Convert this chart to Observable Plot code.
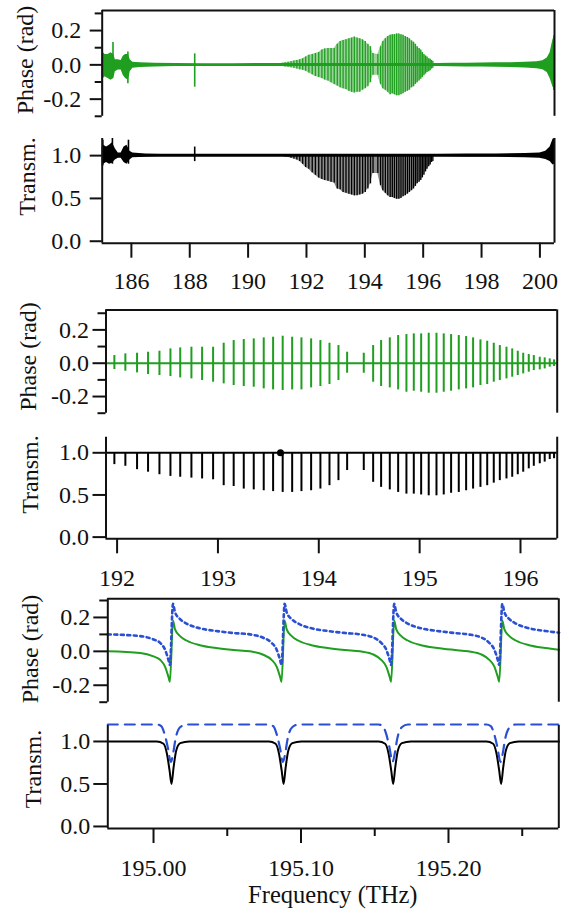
<!DOCTYPE html>
<html><head><meta charset="utf-8">
<script src="https://cdn.jsdelivr.net/npm/d3@7"></script>
<script src="https://cdn.jsdelivr.net/npm/@observablehq/plot@0.6"></script>
<style>
html,body{margin:0;padding:0;background:#fff;overflow:hidden;}
#wrap{position:relative;width:569px;height:913px;overflow:hidden;background:#fff;}
#wrap svg{position:absolute;left:0;top:0;}
</style></head>
<body><div id="wrap"></div>
<script>
// ---------------- DATA ----------------
// Resonances seen in the middle panels (frequency THz, phase max, phase min, transmission min)
const resF = [191.973,192.082,192.198,192.307,192.420,192.529,192.626,192.737,192.843,192.952,193.057,193.156,193.256,193.355,193.454,193.547,193.642,193.736,193.828,193.924,194.016,194.106,194.195,194.281,194.446,194.539,194.618,194.704,194.787,194.869,194.942,195.015,195.090,195.167,195.239,195.312,195.388,195.461,195.530,195.603,195.670,195.735,195.795,195.861,195.918,195.973,196.027,196.082,196.132,196.191,196.240,196.290,196.333];
const resPhHi = [0.046,0.056,0.060,0.066,0.072,0.086,0.092,0.096,0.096,0.096,0.120,0.136,0.142,0.146,0.152,0.156,0.162,0.156,0.152,0.146,0.136,0.120,0.106,0.066,0.060,0.106,0.136,0.152,0.166,0.172,0.176,0.176,0.180,0.180,0.176,0.172,0.166,0.160,0.152,0.140,0.132,0.120,0.106,0.096,0.086,0.072,0.060,0.052,0.046,0.036,0.032,0.026,0.020];
const resPhLo = [-0.038,-0.048,-0.058,-0.068,-0.074,-0.080,-0.088,-0.094,-0.104,-0.114,-0.124,-0.134,-0.140,-0.144,-0.154,-0.160,-0.164,-0.160,-0.160,-0.148,-0.140,-0.128,-0.104,-0.060,-0.060,-0.114,-0.140,-0.148,-0.160,-0.174,-0.168,-0.174,-0.180,-0.180,-0.174,-0.168,-0.160,-0.154,-0.148,-0.134,-0.128,-0.114,-0.104,-0.094,-0.084,-0.074,-0.064,-0.054,-0.044,-0.040,-0.034,-0.024,-0.020];
const resTrMin = [0.86,0.84,0.80,0.77,0.74,0.72,0.71,0.70,0.69,0.68,0.61,0.60,0.57,0.56,0.55,0.54,0.53,0.53,0.54,0.55,0.57,0.61,0.67,0.79,0.79,0.65,0.59,0.56,0.53,0.51,0.51,0.50,0.49,0.49,0.50,0.52,0.53,0.55,0.57,0.59,0.61,0.64,0.67,0.69,0.71,0.74,0.77,0.81,0.84,0.87,0.89,0.92,0.93];

// extra weak resonances visible only in the overview panels
const extF = [191.17,191.27,191.37,191.47,191.57,191.67,191.77,191.87];
const extPhHi = [0.010,0.012,0.015,0.018,0.022,0.026,0.030,0.036];
const extPhLo = [-0.010,-0.012,-0.014,-0.017,-0.020,-0.024,-0.028,-0.032];
const extTrMin = [0.99,0.985,0.98,0.97,0.96,0.95,0.93,0.90];

// overview phase noise envelope
const nPhF  = [185.00,185.04,185.10,185.20,185.30,185.40,185.45,185.55,185.65,185.72,185.80,185.90,185.96,186.05,186.30,186.80,187.50,188.50,189.50,190.50,191.00,196.50,197.00,197.50,198.00,198.50,199.00,199.50,199.90,200.10,200.25,200.35,200.45,200.50];
const nPhHi = [0.09,0.07,0.06,0.06,0.07,0.06,0.03,0.03,0.025,0.05,0.06,0.06,0.03,0.015,0.012,0.010,0.008,0.007,0.007,0.008,0.008,0.008,0.009,0.010,0.011,0.012,0.013,0.015,0.018,0.024,0.040,0.070,0.150,0.160];
const nPhLo = [-0.10,-0.08,-0.07,-0.08,-0.09,-0.08,-0.04,-0.03,-0.03,-0.06,-0.08,-0.09,-0.04,-0.02,-0.015,-0.012,-0.010,-0.010,-0.010,-0.010,-0.010,-0.010,-0.011,-0.012,-0.013,-0.014,-0.016,-0.018,-0.022,-0.028,-0.045,-0.080,-0.130,-0.140];
// overview phase isolated spikes
const sPhF  = [185.00,185.37,185.88,188.17,200.48];
const sPhHi = [0.20,0.13,0.075,0.064,0.17];
const sPhLo = [-0.16,-0.06,-0.11,-0.13,-0.15];

// overview transmission noise envelope
const nTrF  = [185.00,185.05,185.15,185.25,185.35,185.45,185.55,185.65,185.75,185.85,185.95,186.05,186.50,187.00,188.00,189.00,190.00,191.00,196.50,197.50,198.50,199.50,200.00,200.20,200.35,200.45,200.50];
const nTrHi = [1.10,1.12,1.10,1.12,1.15,1.08,1.03,1.03,1.10,1.12,1.05,1.03,1.02,1.015,1.015,1.015,1.015,1.015,1.015,1.018,1.02,1.025,1.03,1.05,1.10,1.19,1.20];
const nTrLo = [0.88,0.90,0.92,0.90,0.91,0.95,0.97,0.97,0.92,0.90,0.95,0.975,0.98,0.985,0.985,0.985,0.985,0.985,0.985,0.982,0.98,0.975,0.97,0.955,0.93,0.89,0.90];
const sTrF  = [185.02,185.35,185.90,188.17];
const sTrHi = [1.18,1.20,1.18,1.10];
const sTrLo = [0.88,0.90,0.90,0.93];

// marker on the middle transmission trace
const mkF = [193.62];
const mkV = [1.0];

// zoomed phase: measurement (green) and model (blue dotted)
const zF = [194.969,194.991,195.000,195.0045,195.0078,195.0101,195.0111,195.0132,195.0146,195.0180,195.0224,195.0314,195.0424,195.0544,195.0654,195.0744,195.0801,195.0835,195.0858,195.0868,195.0889,195.0903,195.0937,195.0981,195.1071,195.1181,195.1301,195.1401,195.1494,195.1544,195.1578,195.1601,195.1611,195.1632,195.1646,195.1680,195.1724,195.1814,195.1924,195.2044,195.2134,195.2227,195.2277,195.2311,195.2334,195.2344,195.2365,195.2379,195.2413,195.2457,195.2547,195.2657,195.275];
const zPhMeas = [0.000,-0.010,-0.030,-0.050,-0.090,-0.150,-0.180,0.180,0.130,0.090,0.064,0.036,0.020,0.008,0.000,-0.020,-0.050,-0.090,-0.150,-0.180,0.180,0.130,0.090,0.064,0.036,0.020,0.008,0.000,-0.020,-0.050,-0.090,-0.150,-0.180,0.180,0.130,0.090,0.064,0.036,0.020,0.008,0.000,-0.020,-0.050,-0.090,-0.150,-0.180,0.180,0.130,0.090,0.064,0.036,0.020,0.010];
const zPhModel = [0.100,0.090,0.070,0.050,0.010,-0.050,-0.080,0.280,0.230,0.190,0.164,0.136,0.120,0.108,0.100,0.080,0.050,0.010,-0.050,-0.080,0.280,0.230,0.190,0.164,0.136,0.120,0.108,0.100,0.080,0.050,0.010,-0.050,-0.080,0.280,0.230,0.190,0.164,0.136,0.120,0.108,0.100,0.080,0.050,0.010,-0.050,-0.080,0.280,0.230,0.190,0.164,0.136,0.120,0.110];

// zoomed transmission: measurement (black)
const zTrF = [194.969,195.0022,195.0068,195.0091,195.0109,195.0122,195.0136,195.0154,195.0181,195.0242,195.0782,195.0828,195.0851,195.0869,195.0882,195.0896,195.0914,195.0941,195.1002,195.1525,195.1571,195.1594,195.1612,195.1625,195.1639,195.1657,195.1684,195.1745,195.2257,195.2303,195.2326,195.2344,195.2357,195.2371,195.2389,195.2416,195.2477,195.275];
const zTrMeas = [1.0,1.0,0.973,0.855,0.657,0.5,0.696,0.894,0.98,1.0,1.0,0.973,0.855,0.657,0.5,0.696,0.894,0.98,1.0,1.0,0.973,0.855,0.657,0.5,0.696,0.894,0.98,1.0,1.0,0.973,0.855,0.657,0.5,0.696,0.894,0.98,1.0,1.0];
// zoomed transmission: model (blue dashed, offset)
const zTrMF = [194.969,195.0022,195.0052,195.0076,195.0097,195.0117,195.0137,195.0147,195.0182,195.0222,195.0782,195.0812,195.0836,195.0857,195.0877,195.0897,195.0907,195.0942,195.0982,195.1525,195.1555,195.1579,195.1600,195.1620,195.1640,195.1650,195.1685,195.1725,195.2257,195.2287,195.2311,195.2332,195.2352,195.2372,195.2382,195.2417,195.2457,195.275];
const zTrModel = [1.2,1.2,1.18,1.08,0.93,0.76,0.90,1.01,1.17,1.2,1.2,1.18,1.08,0.93,0.76,0.90,1.01,1.17,1.2,1.2,1.18,1.08,0.93,0.76,0.90,1.01,1.17,1.2,1.2,1.18,1.08,0.93,0.76,0.90,1.01,1.17,1.2,1.2];

// axes ranges and tick labels
const xWide = [185.0, 200.5];
const xMid = [191.89, 196.364];
const xZoom = [194.969, 195.2748];
const xWideTicks = [186,188,190,192,194,196,198,200];
const xMidTicks = [192,193,194,195,196];
const xZoomTicks = [195.00,195.10,195.20];
const xZoomMinor = [195.05,195.15,195.25];
const phTicks = [-0.2,0.0,0.2];
const phMinor = [-0.3,-0.1,0.1,0.3];
const trTicks = [0.0,0.5,1.0];
const yPhLabel = "Phase (rad)";
const yTrLabel = "Transm.";
const xLabel = "Frequency (THz)";

// ---------------- DRAW ----------------
const W = 569, H = 913;
const FONT = "'Liberation Serif','Times New Roman',Times,serif";
const GREEN = "#1f9e1f", BLUE = "#2a4fd2", INK = "#111";
const wrap = document.getElementById("wrap");

const zip = (f, ...cols) => f.map((v, i) => {
  const o = {f: v};
  cols.forEach(([k, arr]) => o[k] = arr[i]);
  return o;
});
const res = zip(resF, ["hi", resPhHi], ["lo", resPhLo], ["tr", resTrMin]);
const wideRes = zip(extF, ["hi", extPhHi], ["lo", extPhLo], ["tr", extTrMin]).concat(res);
const nPh = zip(nPhF, ["hi", nPhHi], ["lo", nPhLo]);
const sPh = zip(sPhF, ["hi", sPhHi], ["lo", sPhLo]);
const nTr = zip(nTrF, ["hi", nTrHi], ["lo", nTrLo]);
const sTr = zip(sTrF, ["hi", sTrHi], ["lo", sTrLo]);
const mk = zip(mkF, ["v", mkV]);
const zPh = zip(zF, ["m", zPhMeas], ["mod", zPhModel]);
const zTr = zip(zTrF, ["m", zTrMeas]);
const zTrM = zip(zTrMF, ["mod", zTrModel]);

const fmt1 = d => d.toFixed(1).replace("\u2212", "-");
const fmt2 = d => d.toFixed(2);

function yAxes(kind, size, pad) {
  const out = [Plot.axisY({ticks: kind === "ph" ? phTicks : trTicks, tickSize: size, tickPadding: pad,
    tickFormat: fmt1, strokeWidth: 2, stroke: INK, label: null})];
  if (kind === "ph") out.push(Plot.axisY({ticks: phMinor, tickSize: Math.round(size * 0.58), tickFormat: () => "",
    strokeWidth: 2, stroke: INK, label: null}));
  return out;
}
function frame(xd, yd, sides) {
  const m = [];
  const st = {stroke: INK, strokeWidth: 2};
  if (sides.includes("l")) m.push(Plot.ruleX([xd[0]], st));
  if (sides.includes("r")) m.push(Plot.ruleX([xd[1]], st));
  if (sides.includes("t")) m.push(Plot.ruleY([yd[1]], st));
  if (sides.includes("b")) m.push(Plot.ruleY([yd[0]], st));
  return m;
}
function panel(o) {
  const svg = Plot.plot({
    width: W, height: H,
    marginLeft: o.left, marginRight: W - o.right, marginTop: o.top, marginBottom: H - o.bottom,
    x: {domain: o.xd, axis: null},
    y: {domain: o.yd, axis: null},
    style: {background: "transparent", fontFamily: FONT, fontSize: "24px", color: INK, overflow: "visible"},
    marks: o.marks
  });
  const s = d3.select(svg);
  s.append("text").attr("transform", `translate(${o.lx},${o.ly}) rotate(-90)`)
    .attr("text-anchor", "middle").attr("dy", "0.35em")
    .style("font-family", FONT).style("font-size", "24px").attr("fill", INK).text(o.label);
  if (o.after) o.after(s);
  wrap.appendChild(svg);
}

const yP1 = [-0.3, 0.317], yP2 = [-0.023, 1.2], yP3 = [-0.3, 0.32], yP4 = [-0.02, 1.185], yP5 = [-0.3, 0.31], yP6 = [-0.024, 1.188];

// Panel 1: overview phase
panel({left: 101.7, right: 554, top: 10, bottom: 115.8, xd: xWide, yd: yP1, label: yPhLabel, lx: 25, ly: 60,
  marks: [
    Plot.areaY(nPh, {x: "f", y1: "lo", y2: "hi", fill: GREEN}),
    Plot.ruleY([0], {stroke: GREEN, strokeWidth: 1.5}),
    Plot.areaY(wideRes, {x: "f", y1: "lo", y2: "hi", fill: GREEN, fillOpacity: 0.45}),
    Plot.ruleX(wideRes, {x: "f", y1: "lo", y2: "hi", stroke: GREEN, strokeWidth: 1.3}),
    Plot.ruleX(sPh, {x: "f", y1: "lo", y2: "hi", stroke: GREEN, strokeWidth: 1.6}),
    ...frame(xWide, yP1, "lrt"),
    ...yAxes("ph", 12, 9)
  ]});

// Panel 2: overview transmission
panel({left: 101.7, right: 554, top: 138, bottom: 242.7, xd: xWide, yd: yP2, label: yTrLabel, lx: 26.6, ly: 176.5,
  marks: [
    Plot.areaY(nTr, {x: "f", y1: "lo", y2: "hi", fill: "#000"}),
    Plot.ruleY([1], {stroke: "#000", strokeWidth: 2}),
    Plot.areaY(wideRes, {x: "f", y1: "tr", y2: 1, fill: "#000", fillOpacity: 0.45}),
    Plot.ruleX(wideRes, {x: "f", y1: "tr", y2: 1, stroke: "#000", strokeWidth: 1.3}),
    Plot.ruleX(sTr, {x: "f", y1: "lo", y2: "hi", stroke: "#000", strokeWidth: 1.6}),
    ...frame(xWide, yP2, "lrb"),
    ...yAxes("tr", 12, 9),
    Plot.axisX({ticks: xWideTicks, tickSize: 15, tickPadding: 14, tickFormat: d => String(d), strokeWidth: 2, stroke: INK, label: null})
  ]});

// Panel 3: middle phase
panel({left: 105.5, right: 556.7, top: 309.4, bottom: 412.7, xd: xMid, yd: yP3, label: yPhLabel, lx: 27.5, ly: 356.5,
  marks: [
    Plot.ruleY([0], {stroke: GREEN, strokeWidth: 2}),
    Plot.ruleX(res, {x: "f", y1: "lo", y2: "hi", stroke: GREEN, strokeWidth: 2}),
    ...frame(xMid, yP3, "lrt"),
    ...yAxes("ph", 13, 4)
  ]});

// Panel 4: middle transmission
panel({left: 105.5, right: 556.7, top: 436.7, bottom: 538.3, xd: xMid, yd: yP4, label: yTrLabel, lx: 30, ly: 474.5,
  marks: [
    Plot.ruleY([1], {stroke: "#000", strokeWidth: 2}),
    Plot.ruleX(res, {x: "f", y1: "tr", y2: 1, stroke: "#000", strokeWidth: 2}),
    Plot.dot(mk, {x: "f", y: "v", r: 3.5, fill: "#000"}),
    ...frame(xMid, yP4, "lrb"),
    ...yAxes("tr", 13, 4),
    Plot.axisX({ticks: xMidTicks, tickSize: 15, tickPadding: 15, tickFormat: d => String(d), strokeWidth: 2, stroke: INK, label: null})
  ]});

// Panel 5: zoomed phase
panel({left: 107.3, right: 558.3, top: 598.3, bottom: 701.7, xd: xZoom, yd: yP5, label: yPhLabel, lx: 30, ly: 649,
  marks: [
    Plot.line(zPh, {x: "f", y: "m", stroke: GREEN, strokeWidth: 2, curve: "monotone-x"}),
    Plot.line(zPh, {x: "f", y: "mod", stroke: BLUE, strokeWidth: 2.6, strokeDasharray: "3,3.5", curve: "monotone-x"}),
    ...frame(xZoom, yP5, "lrt"),
    ...yAxes("ph", 14, 3.5)
  ]});

// Panel 6: zoomed transmission
panel({left: 107.3, right: 558.3, top: 725, bottom: 828, xd: xZoom, yd: yP6, label: yTrLabel, lx: 33, ly: 769,
  marks: [
    Plot.line(zTr, {x: "f", y: "m", stroke: "#000", strokeWidth: 2, curve: "monotone-x"}),
    Plot.line(zTrM, {x: "f", y: "mod", stroke: BLUE, strokeWidth: 2.2, strokeDasharray: "10,7", curve: "monotone-x"}),
    ...frame(xZoom, yP6, "lrb"),
    ...yAxes("tr", 14, 3.5),
    Plot.axisX({ticks: xZoomTicks, tickSize: 15, tickPadding: 15, tickFormat: fmt2, strokeWidth: 2, stroke: INK, label: null}),
    Plot.axisX({ticks: xZoomMinor, tickSize: 8, tickFormat: () => "", strokeWidth: 2, stroke: INK, label: null})
  ],
  after: s => s.append("text").attr("x", (107.3 + 558.3) / 2).attr("y", 903).attr("text-anchor", "middle")
    .style("font-family", FONT).style("font-size", "24.5px").attr("fill", INK).text(xLabel)
});
</script>
</body></html>
